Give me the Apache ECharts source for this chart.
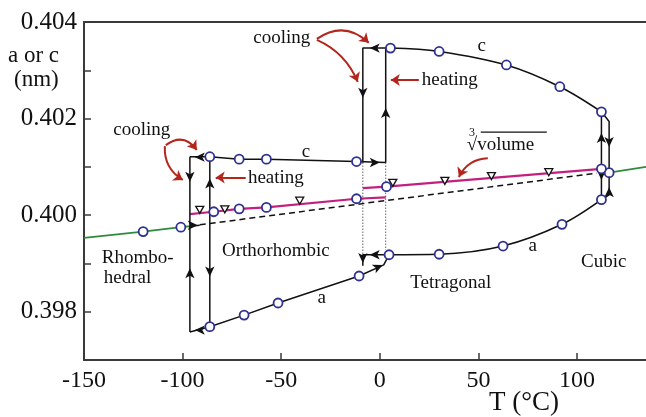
<!DOCTYPE html>
<html><head><meta charset="utf-8">
<script src="https://cdn.jsdelivr.net/npm/echarts@6/dist/echarts.min.js"></script>
<style>html,body{margin:0;padding:0;background:#fff}#c{width:646px;height:417px}</style>
</head><body><div id="c"></div>
<script>
// ---------- data ----------
const xTickLabels = ['-150', '-100', '-50', '0', '50', '100'];
const yTickLabels = ['0.398', '0.400', '0.402', '0.404'];

// transition temperatures (cooling / heating)
const tCoolOR = -96.3, tHeatOR = -86.2;
const tCoolTO = -8.6, tHeatTO = 3.0;
const tCoolTC = 112.4, tHeatTC = 116.3;

const rhomboA = [[-120.0, 0.39966], [-100.9, 0.39975]];
const greenLeft = [[-150, 0.39953], [-120.0, 0.39966], [-100.9, 0.39975], [-96.3, 0.39977]];
const cubicA = [[116.3, 0.40088]];
const greenRight = [[116.3, 0.40088], [135, 0.40100]];
const dashedGuide = [[-91.3, 0.39980], [110.0, 0.40087]];
const orthoC = [[-86.2, 0.40121], [-71.3, 0.40116], [-57.5, 0.40116], [-11.8, 0.40111]];
const orthoB = [[-84.2, 0.40007], [-71.3, 0.40013], [-57.5, 0.40016], [-11.8, 0.40034]];
const orthoA = [[-86.2, 0.39769], [-68.8, 0.39793], [-51.6, 0.39818], [-10.5, 0.39874]];
const tetC = [[5.4, 0.40346], [30.1, 0.40339], [64.2, 0.40311], [91.3, 0.40266], [112.4, 0.40214]];
const tetA = [[4.7, 0.39918], [30.1, 0.39919], [62.5, 0.39936], [92.4, 0.39981], [112.4, 0.40032]];
const tetVol = [[3.4, 0.40059], [112.4, 0.40096]];
const volTri = [[-91.3, 0.40011], [-78.6, 0.40012], [-40.6, 0.40030], [6.6, 0.40067], [33.0, 0.40071], [56.6, 0.40081], [85.7, 0.40089]];

// line paths built from the values above
const volLow = [[tCoolOR, 0.40002]].concat(orthoB, [[tHeatTO, 0.40037]]);
const volHigh = [[tCoolTO, 0.40056]].concat(tetVol);
const pathTopCool = [tetC[0], [tCoolTO, 0.40346], [tCoolTO, 0.40109]];
const pathTopHeat = [[tHeatTO, 0.40109], [tHeatTO, 0.40346]];
const pathOrthoC = [[tCoolOR, 0.40121]].concat(orthoC, [[tHeatTO, 0.40109]]);
const pathOrthoA = [[tCoolOR, 0.39758]].concat(orthoA, [[2.0, 0.39897], tetA[0]]);
const pathTetACool = [tetA[0], [tCoolTO, 0.39918], [tCoolTO, 0.39895]];
const pathORCool = [[tCoolOR, 0.39758], [tCoolOR, 0.40121]];
const pathORHeat = [[tHeatOR, 0.39769], [tHeatOR, 0.40121]];
const pathTCCool = [[tCoolTC, 0.40214], [tCoolTC, 0.40032]];
const pathTCHeat = [[tCoolTC, 0.40214], [tHeatTC, 0.40194], [tHeatTC, 0.40042], [tCoolTC, 0.40032]];
const pathRhombo = [[tCoolOR, 0.39977], [-91.3, 0.39979]];
const dottedCool = [[tCoolTO, 0.40109], [tCoolTO, 0.39918]];
const dottedHeat = [[tHeatTO, 0.40109], [tHeatTO, 0.39928]];

// arrowheads: [T, value, direction angle]
const arrowHeads = [
  [-5.1, 0.40346, 90], [tCoolTO, 0.40243, 180], [tHeatTO, 0.40222, 0], [0.0, 0.40109, -90],
  [-5.1, 0.39918, 90], [tCoolTO, 0.39901, 180], [1.5, 0.39897, -65],
  [tCoolOR, 0.40069, 180], [tCoolOR, 0.39890, 0], [tHeatOR, 0.40076, 0], [tHeatOR, 0.39873, 180],
  [-93.8, 0.40120, 90], [-93.8, 0.39762, 90], [-92.3, 0.39979, -90],
  [tCoolTC, 0.40170, 0], [tCoolTC, 0.40073, 180], [tHeatTC, 0.40141, 180], [tHeatTC, 0.40058, 0]
];

// red annotation arrows: from, to, curveness
const redArrows = [
  [[-31.9, 0.40365], [-5.6, 0.40357], 0.4],
  [[-31.9, 0.40363], [-11.2, 0.40276], 0.2],
  [[19.8, 0.40280], [5.6, 0.40280], 0],
  [[-108.5, 0.40145], [-92.8, 0.40135], 0.5],
  [[-109.0, 0.40143], [-99.9, 0.40073], -0.3],
  [[-68.0, 0.40078], [-83.2, 0.40078], 0],
  [[54.8, 0.40118], [40.1, 0.40079], -0.3]
];

// text annotations in data coordinates
const notes = [
  ['cooling', -49.7, 0.40367, 'center'],
  ['heating', 35.5, 0.40280, 'center'],
  ['c', 51.7, 0.40350, 'center'],
  ['cooling', -120.7, 0.40176, 'center'],
  ['heating', -52.7, 0.40077, 'center'],
  ['c', -37.5, 0.40131, 'center'],
  ['Rhombo-', -141.0, 0.39911, 'left'],
  ['hedral', -140.0, 0.39870, 'left'],
  ['Orthorhombic', -52.7, 0.39926, 'center'],
  ['Tetragonal', 36.0, 0.39860, 'center'],
  ['a', 77.6, 0.39936, 'center'],
  ['a', -29.4, 0.39829, 'center'],
  ['Cubic', 113.6, 0.39903, 'center'],
  ['\u221Avolume', 44.1, 0.40145, 'left']
];
const cubeIndex = [46.7, 0.40170];
const vinculum = [[51.2, 0.40172], [84.7, 0.40172]];

// ---------- chart ----------
const FONT = 'Liberation Serif';
const INK = '#111';
const AXIS = '#3a3a3a';
const BLUE = '#2e3192';
const MAG = '#c2207e';
const GREEN = '#2f8a3c';
const RED = '#b3261b';
const NOTE = 19;

function line(data, color, width, type, extra) {
  return Object.assign({
    type: 'line', data: data, showSymbol: false, symbol: 'none', silent: true,
    lineStyle: { color: color, width: width, type: type || 'solid', opacity: 1 }, z: 2, animation: false
  }, extra || {});
}

const series = [
  line(greenLeft, GREEN, 1.8),
  line(greenRight, GREEN, 1.8),
  line(dashedGuide, INK, 1.5, [6, 4]),
  line(dottedCool, '#666', 1, [1.5, 1.5]),
  line(dottedHeat, '#666', 1, [1.5, 1.5]),
  line(volLow, MAG, 2.2),
  line(volHigh, MAG, 2.2),
  line(pathTopCool, INK, 1.5),
  line(pathTopHeat, INK, 1.5),
  line(pathOrthoC, INK, 1.5),
  line(pathOrthoA, INK, 1.5),
  line(pathTetACool, INK, 1.5),
  line(pathORCool, INK, 1.5),
  line(pathORHeat, INK, 1.5),
  line(pathTCCool, INK, 1.5),
  line(pathTCHeat, INK, 1.5),
  line(pathRhombo, INK, 1.5),
  line(tetC, INK, 1.6, 'solid', { smooth: 0.35 }),
  line(tetA, INK, 1.6, 'solid', { smooth: 0.35 }),
  line(vinculum, INK, 1.2),
  {
    type: 'lines', coordinateSystem: 'cartesian2d', silent: true, animation: false, z: 3,
    symbol: ['none', 'arrow'], symbolSize: 9,
    lineStyle: { color: RED, width: 2, opacity: 1 },
    data: redArrows.map(a => ({ coords: [a[0], a[1]], lineStyle: { curveness: a[2] } }))
  },
  {
    type: 'scatter', silent: true, animation: false, z: 4, symbol: 'arrow', symbolSize: [7, 10],
    itemStyle: { color: INK, opacity: 1 },
    data: arrowHeads.map(a => ({ value: [a[0], a[1]], symbolRotate: a[2] }))
  },
  {
    type: 'scatter', silent: true, animation: false, z: 5, symbol: 'triangle', symbolRotate: 180,
    symbolSize: [8, 7], itemStyle: { color: '#fff', borderColor: INK, borderWidth: 1.3, opacity: 1 },
    data: volTri
  },
  {
    type: 'scatter', silent: true, animation: false, z: 6, symbol: 'circle', symbolSize: 9,
    itemStyle: { color: '#fff', borderColor: BLUE, borderWidth: 1.8, opacity: 1 },
    data: [].concat(rhomboA, cubicA, orthoC, orthoB, orthoA, tetC, tetA, tetVol)
  },
  {
    type: 'scatter', silent: true, animation: false, z: 7, symbolSize: 0,
    itemStyle: { opacity: 1 },
    data: notes.map(n => ({
      name: n[0], value: [n[1], n[2]],
      label: { align: n[3] }
    })).concat([{ name: '3', value: cubeIndex, label: { fontSize: 12 } }]),
    label: {
      show: true, position: 'inside', formatter: '{b}', fontFamily: FONT, fontSize: NOTE,
      color: INK, textBorderWidth: 0
    }
  }
];

const chart = echarts.init(document.getElementById('c'), null, { renderer: 'canvas' });
chart.setOption({
  animation: false,
  backgroundColor: '#fff',
  grid: { left: 84, right: 0, top: 22, bottom: 57, containLabel: false },
  xAxis: [{
    type: 'value', min: -150, max: 135, interval: 50,
    axisLine: { show: true, onZero: false, lineStyle: { color: AXIS, width: 2 } },
    axisTick: { show: true, inside: true, length: 7, lineStyle: { color: AXIS, width: 1.5 } },
    splitLine: { show: false },
    axisLabel: {
      showMaxLabel: false, margin: 9, color: INK, fontFamily: FONT, fontSize: 24,
      formatter: v => { const s = String(Math.round(v)); return xTickLabels.includes(s) ? s : ''; }
    }
  }, {
    type: 'value', position: 'top', min: -150, max: 135,
    axisLine: { show: true, onZero: false, lineStyle: { color: AXIS, width: 2 } },
    axisTick: { show: false }, axisLabel: { show: false }, splitLine: { show: false }
  }],
  yAxis: {
    type: 'value', min: 0.397, max: 0.404, interval: 0.001,
    axisLine: { show: true, onZero: false, lineStyle: { color: AXIS, width: 2 } },
    axisTick: { show: true, inside: true, length: 7, lineStyle: { color: AXIS, width: 1.5 } },
    splitLine: { show: false },
    axisLabel: {
      margin: 7, color: INK, fontFamily: FONT, fontSize: 25, showMinLabel: true,
      formatter: v => { const s = v.toFixed(3); return yTickLabels.includes(s) ? s : ''; }
    }
  },
  graphic: [
    { type: 'text', left: 8, top: 44, style: { text: 'a or c', font: '23px "Liberation Serif"', fill: INK } },
    { type: 'text', left: 14, top: 68, style: { text: '(nm)', font: '23px "Liberation Serif"', fill: INK } },
    { type: 'text', left: 489, top: 389, style: { text: 'T (\u00B0C)', font: '27px "Liberation Serif"', fill: INK } }
  ],
  series: series
});
</script>
</body></html>
